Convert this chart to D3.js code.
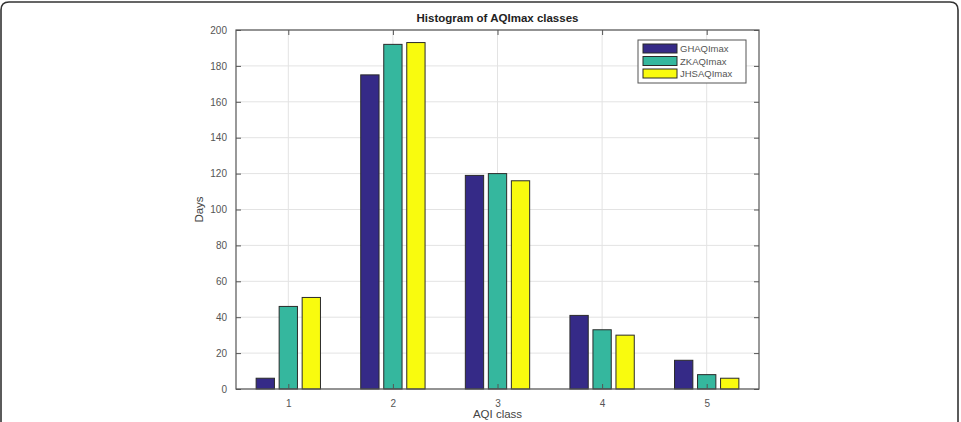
<!DOCTYPE html>
<html><head><meta charset="utf-8">
<script src="https://cdn.jsdelivr.net/npm/d3@7"></script>
<style>
html,body{margin:0;padding:0;background:#fff;}
svg{display:block;font-family:"Liberation Sans",Arial,sans-serif;}
</style></head>
<body><svg id="c" width="961" height="422"></svg>
<script>
const categories = [1, 2, 3, 4, 5];
const seriesNames = ["GHAQImax", "ZKAQImax", "JHSAQImax"];
const GHAQImax = [6, 175, 119, 41, 16];
const ZKAQImax = [46, 192, 120, 33, 8];
const JHSAQImax = [51, 193, 116, 30, 6];
const yTicks = [0, 20, 40, 60, 80, 100, 120, 140, 160, 180, 200];
const colors = ["#352a87", "#35b79e", "#f9fb0e"];
const series = [GHAQImax, ZKAQImax, JHSAQImax];

const svg = d3.select("#c");
// outer frame
svg.append("path")
  .attr("d", "M1,422 L1,10 Q1,2 9,2 L950,2 Q958,2 958,10 L958,422")
  .attr("fill", "none").attr("stroke", "#333").attr("stroke-width", 1.6);

const L = 236, R = 759, T = 30, B = 389;
const x = d3.scaleLinear().domain([0.5, 5.5]).range([L, R]);
const y = d3.scaleLinear().domain([0, 200]).range([B, T]);

const g = svg.append("g");
// grid
g.selectAll(".gy").data(yTicks).enter().append("line")
  .attr("x1", L).attr("x2", R).attr("y1", d => y(d)).attr("y2", d => y(d))
  .attr("stroke", "#e3e3e3").attr("stroke-width", 1);
g.selectAll(".gx").data(categories).enter().append("line")
  .attr("y1", T).attr("y2", B).attr("x1", d => x(d)).attr("x2", d => x(d))
  .attr("stroke", "#e3e3e3").attr("stroke-width", 1);

// bars
const offsets = [-0.22, 0, 0.22];
const bw = 0.175;
series.forEach((vals, si) => {
  g.selectAll(".b" + si).data(vals).enter().append("rect")
    .attr("x", (d, i) => x(categories[i] + offsets[si] - bw / 2))
    .attr("width", x(bw) - x(0))
    .attr("y", d => y(d))
    .attr("height", d => y(0) - y(d))
    .attr("fill", colors[si])
    .attr("stroke", "#2a2a2a").attr("stroke-width", 1);
});

// axes box
g.append("rect").attr("x", L).attr("y", T).attr("width", R - L).attr("height", B - T)
  .attr("fill", "none").attr("stroke", "#555").attr("stroke-width", 1.2);

// ticks
const axL = d3.axisLeft(y).tickValues(yTicks).tickSize(-5).tickPadding(9);
const axB = d3.axisBottom(x).tickValues(categories).tickFormat(d3.format("d")).tickSize(-5).tickPadding(11);
svg.append("g").attr("transform", `translate(${L},0)`).call(axL);
svg.append("g").attr("transform", `translate(0,${B})`).call(axB);
// top & right ticks
svg.append("g").attr("transform", `translate(${R},0)`).call(d3.axisRight(y).tickValues(yTicks).tickSize(-5).tickFormat(""));
svg.append("g").attr("transform", `translate(0,${T})`).call(d3.axisTop(x).tickValues(categories).tickSize(-5).tickFormat(""));
svg.selectAll(".domain").remove();
svg.selectAll(".tick line").attr("stroke", "#555");
svg.selectAll(".tick text").attr("fill", "#555").style("font-size", "10px")
  .style("font-family", "'Liberation Sans',Arial,sans-serif");

// title & labels
svg.append("text").attr("x", (L + R) / 2).attr("y", 22).attr("text-anchor", "middle")
  .style("font-size", "11.5px").style("font-weight", "bold").attr("fill", "#222")
  .text("Histogram of AQImax classes");
svg.append("text").attr("x", (L + R) / 2).attr("y", 418).attr("text-anchor", "middle")
  .style("font-size", "11.5px").style("font-weight", "normal").attr("fill", "#444").text("AQI class");
svg.append("text").attr("transform", `translate(203,${(T + B) / 2}) rotate(-90)`)
  .attr("text-anchor", "middle").style("font-size", "11.5px").style("font-weight", "normal")
  .attr("fill", "#444").text("Days");

// legend
const lg = svg.append("g").attr("transform", "translate(638,40)");
lg.append("rect").attr("width", 108).attr("height", 43).attr("fill", "#fff")
  .attr("stroke", "#555").attr("stroke-width", 1);
seriesNames.forEach((n, i) => {
  lg.append("rect").attr("x", 5).attr("y", 4 + i * 12.5).attr("width", 34).attr("height", 9)
    .attr("fill", colors[i]).attr("stroke", "#2a2a2a").attr("stroke-width", 1);
  lg.append("text").attr("x", 42).attr("y", 12 + i * 12.5).style("font-size", "9.5px")
    .attr("fill", "#555").text(n);
});
</script></body></html>
